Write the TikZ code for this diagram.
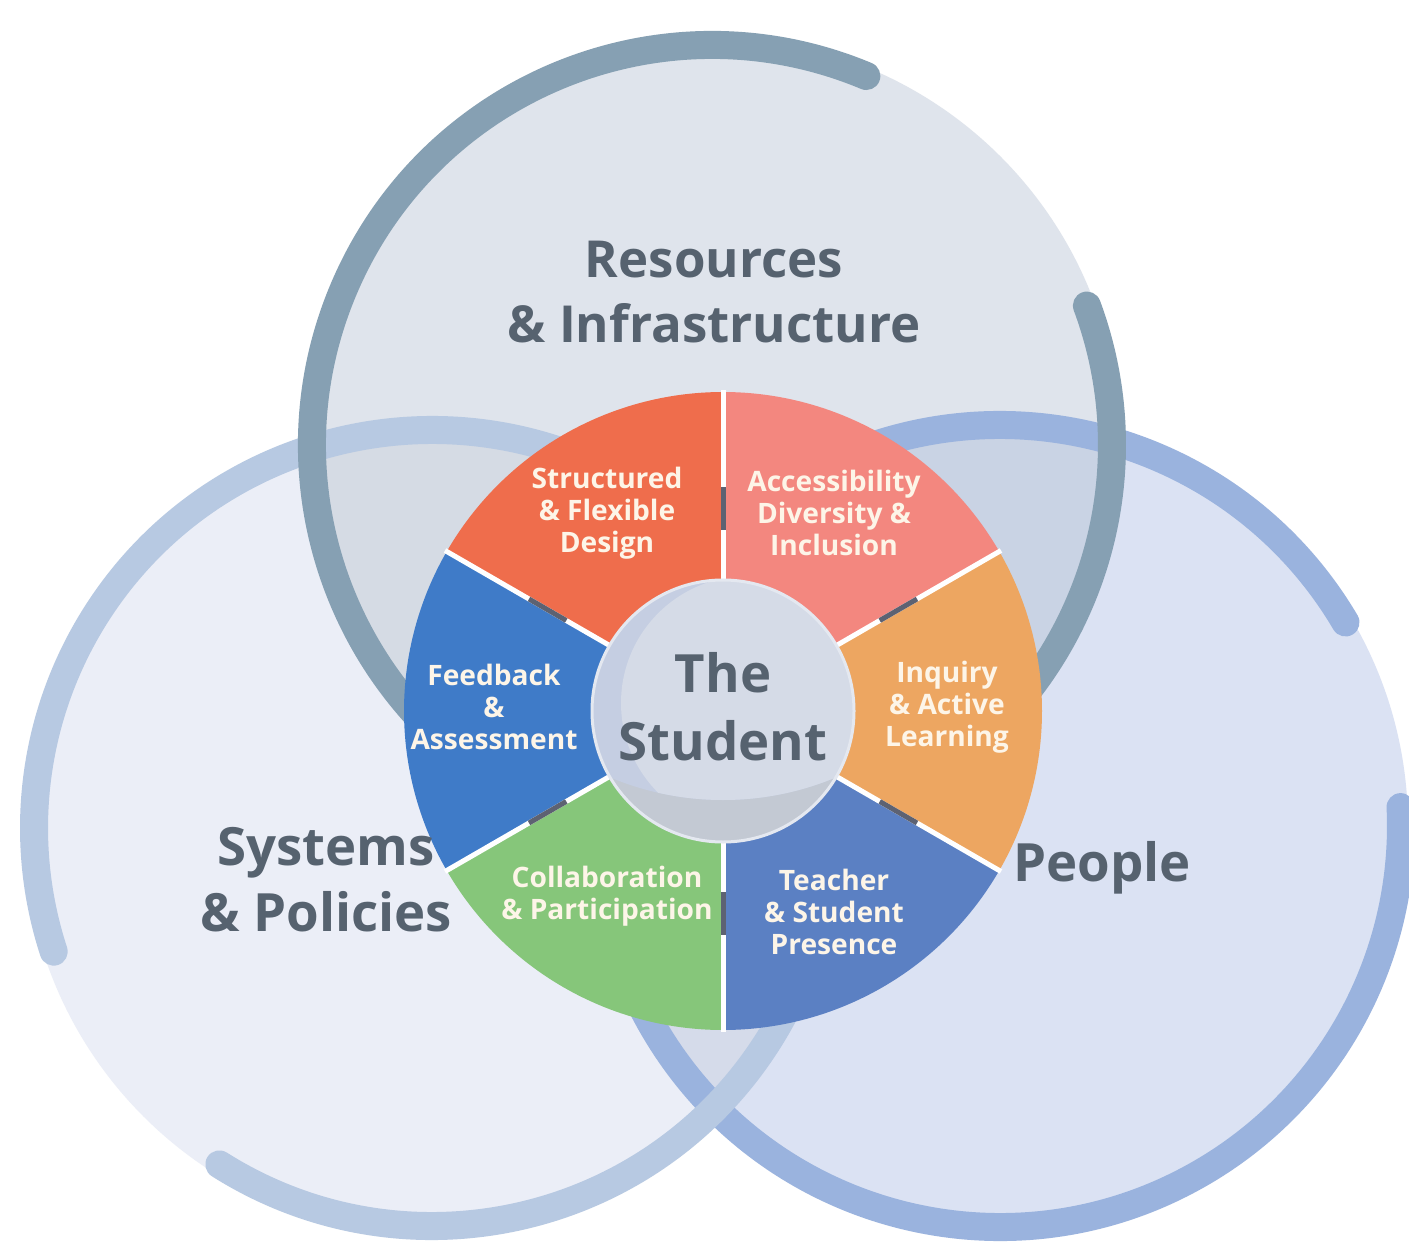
\documentclass[tikz,border=0pt]{standalone}
\usepackage{fontspec}
\setmainfont{Open Sans}
\definecolor{fillT}{HTML}{DFE4EC}
\definecolor{fillL}{HTML}{EBEEF7}
\definecolor{fillR}{HTML}{DBE2F3}
\definecolor{fillTL}{HTML}{D5DBE4}
\definecolor{fillTR}{HTML}{C9D3E4}
\definecolor{fillLR}{HTML}{D5DBEA}
\definecolor{ringT}{HTML}{86A0B3}
\definecolor{ringL}{HTML}{B7C9E2}
\definecolor{ringR}{HTML}{9AB3DE}
\definecolor{segStruct}{HTML}{EF6D4C}
\definecolor{segAccess}{HTML}{F3877F}
\definecolor{segInquiry}{HTML}{EDA661}
\definecolor{segTeacher}{HTML}{5B80C3}
\definecolor{segCollab}{HTML}{86C67A}
\definecolor{segFeedback}{HTML}{3F7BC8}
\definecolor{headc}{HTML}{56626F}
\definecolor{segtext}{HTML}{FDF5E8}
\definecolor{gapdark}{HTML}{5D6272}
\definecolor{ballbase}{HTML}{D5DBE7}
\definecolor{ballblue}{HTML}{C5CEE2}
\definecolor{ballshade}{HTML}{C3C9D3}
\definecolor{ballrim}{HTML}{E4E8F0}
\begin{document}
\begin{tikzpicture}[x=0.01cm,y=0.01cm,
  ring/.style={line width=0.28cm, line cap=round},
  sepline/.style={draw=white, line width=0.05cm},
  gapmark/.style={draw=gapdark, line width=0.05cm},
  heading/.style={align=center, inner sep=0pt, text=headc, font=\bfseries\fontsize{14.5}{18.6}\selectfont},
  seglabel/.style={align=center, inner sep=0pt, text=segtext, font=\bfseries\fontsize{8}{9.1}\selectfont},
  ballstyle/.style={align=center, inner sep=0pt, text=headc, font=\bfseries\fontsize{15}{19.3}\selectfont}]
\fill[white] (0,0) rectangle (1409,-1246);
\useasboundingbox (0,0) rectangle (1409,-1246);
\coordinate (T) at (712,-445);
\coordinate (L) at (432,-828);
\coordinate (R) at (1000,-826);
\coordinate (c) at (723,-711);
% circle fills
\fill[fillL] (L) circle[radius=408];
\fill[fillR] (R) circle[radius=408];
\fill[fillT] (T) circle[radius=408];
\begin{scope}
  \clip (T) circle[radius=408];
  \fill[fillTL] (L) circle[radius=408];
  \fill[fillTR] (R) circle[radius=408];
\end{scope}
\begin{scope}
  \clip (L) circle[radius=408];
  \clip (R) circle[radius=408];
  \fill[fillLR] (L) circle[radius=408];
\end{scope}
% rings
\draw[ring, ringR] (R) ++(30.5:401) arc[start angle=30.5, end angle=362.7, radius=401];
\draw[ring, ringL] (L) ++(237.7:398) arc[start angle=237.7, end angle=558.1, radius=398];
\draw[ring, ringT] (T) ++(67.3:400) arc[start angle=67.3, end angle=380.4, radius=400];
% wheel
\foreach \a/\col in {30/segAccess, 90/segStruct, 150/segFeedback, 210/segCollab, 270/segTeacher, 330/segInquiry}
  \fill[\col] (c) -- ++(\a:319) arc[start angle=\a, end angle=\a+60, radius=319] -- cycle;
\foreach \a in {30,90,150,210,270,330} {
  \draw[sepline] (c) ++(\a:125) -- ++(\a:196);
  \draw[gapmark] (c) ++(\a:181) -- ++(\a:43);
}
% the student ball
\begin{scope}
  \clip (c) circle[radius=131];
  \fill[ballshade] (c) circle[radius=131];
  \begin{scope}
    \clip (723,-508) circle[radius=292];
    \fill[ballblue] (c) circle[radius=131];
    \fill[ballbase] (748,-703) circle[radius=127];
  \end{scope}
\end{scope}
\draw[ballrim, line width=0.03cm] (c) circle[radius=131];
% labels
\node[ballstyle] (student) at (723,-707) {The\\Student};
\node[heading] (res) at (714,-292) {Resources\\\& Infrastructure};
\node[heading, font=\bfseries\fontsize{15}{18.8}\selectfont] (sys) at (326,-880) {Systems\\\& Policies};
\node[heading, font=\bfseries\fontsize{15}{18.8}\selectfont] (ppl) at (1102,-868) {People};
\node[seglabel] (s1) at (607,-513) {Structured\\\& Flexible\\Design};
\node[seglabel] (s2) at (834,-513) {Accessibility\\Diversity \&\\Inclusion};
\node[seglabel] (s3) at (494,-707) {Feedback\\\&\\Assessment};
\node[seglabel] (s4) at (947,-707) {Inquiry\\\& Active\\Learning};
\node[seglabel] (s5) at (607,-896) {Collaboration\\\& Participation};
\node[seglabel] (s6) at (834,-912) {Teacher\\\& Student\\Presence};
\end{tikzpicture}
\end{document}
